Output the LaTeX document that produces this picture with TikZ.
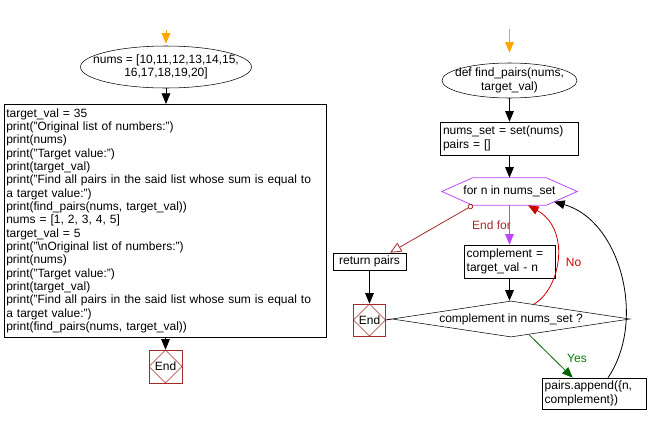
\documentclass[tikz,border=0pt]{standalone}
\usepackage{fontspec}
\setmainfont{Liberation Sans}
\usetikzlibrary{arrows.meta,shapes.geometric,calc}

\definecolor{startorange}{RGB}{255,165,0}
\definecolor{loopviolet}{RGB}{190,70,255}
\definecolor{endbrown}{RGB}{165,42,42}
\definecolor{nored}{RGB}{204,0,0}
\definecolor{yesgreen}{RGB}{0,128,0}
\definecolor{yesarrow}{RGB}{0,100,0}

\tikzset{
  every node/.style={font=\fontsize{9pt}{10pt}\selectfont},
  flowline/.style={line width=0.6pt},
  tip/.style={-{Triangle[width=6.5pt,length=8pt]}},
  startell/.style={ellipse, draw, inner xsep=-11pt, inner ysep=0pt, align=center},
  procbox/.style={rectangle, draw, inner xsep=2pt, inner ysep=1.5pt, align=left},
  endbox/.style={rectangle, draw=endbrown, minimum size=24.75pt, inner sep=0pt,
    path picture={\draw[endbrown] (path picture bounding box.north) -- (path picture bounding box.east)
      -- (path picture bounding box.south) -- (path picture bounding box.west) -- cycle;}},
  decision/.style={diamond, draw, inner sep=0pt, aspect=6.6},
}

\begin{document}
\begin{tikzpicture}[x=0.75pt,y=0.75pt,yscale=-1,xscale=1]
\useasboundingbox (0,0) rectangle (649,425);

%Shape: Ellipse [id:nums]
\node[startell, minimum width=128.25pt, minimum height=31.5pt] (nums) at (166,67) {nums = [10,11,12,13,14,15,\\16,17,18,19,20]};
%Shape: Rectangle [id:code]
\node[procbox, anchor=north west, inner xsep=1.5pt, text width=238.5pt, minimum height=174.75pt] (code) at (4,104) {target\_val = 35\\
print("Original list of numbers:")\\
print(nums)\\
print("Target value:")\\
print(target\_val)\\
print("Find all pairs in the said list whose sum is equal to\\
a target value:")\\
print(find\_pairs(nums, target\_val))\\
nums = [1, 2, 3, 4, 5]\\
target\_val = 5\\
print("\textbackslash nOriginal list of numbers:")\\
print(nums)\\
print("Target value:")\\
print(target\_val)\\
print("Find all pairs in the said list whose sum is equal to\\
a target value:")\\
print(find\_pairs(nums, target\_val))};
%Shape: End [id:endmain]
\node[endbox] (endmain) at (165.5,366.5) {End};

%Shape: Ellipse [id:findp]
\node[startell, minimum width=101.25pt, minimum height=26.25pt] (findp) at (509.5,80.5) {def find\_pairs(nums,\\target\_val)};
%Shape: Rectangle [id:setbox]
\node[procbox, inner xsep=2.25pt, text width=99pt, minimum height=24.75pt] (setbox) at (509,138.5) {nums\_set = set(nums)\\pairs = []};
%Shape: Hexagon [id:forloop]
\node[minimum width=101.25pt, minimum height=20.25pt, inner sep=0pt] (forloop) at (509.5,191.5) {for n in nums\_set};
\coordinate (hexW) at (forloop.west);
\coordinate (hexNW) at ([xshift=23.25pt]forloop.north west);
\coordinate (hexNE) at ([xshift=-23.25pt]forloop.north east);
\coordinate (hexE) at (forloop.east);
\coordinate (hexSE) at ([xshift=-23.25pt]forloop.south east);
\coordinate (hexSW) at ([xshift=23.25pt]forloop.south west);
\draw[loopviolet, flowline] (hexW) -- (hexNW) -- (hexNE) -- (hexE) -- (hexSE) -- (hexSW) -- cycle;
%Shape: Rectangle [id:compbox]
\node[procbox, text width=64.25pt, minimum height=24.75pt] (compbox) at (509.5,261.5) {complement =\\target\_val - n};
%Shape: Diamond [id:dec]
\node[decision, minimum width=178.5pt, minimum height=27pt] (dec) at (511,319) {complement in nums\_set ?};
%Shape: Rectangle [id:retp]
\node[procbox, align=center, minimum width=54.75pt, minimum height=12.75pt] (retp) at (369.5,261.5) {return pairs};
%Shape: End [id:endfn]
\node[endbox, minimum size=24pt] (endfn) at (369.5,320) {End};
%Shape: Rectangle [id:append]
\node[procbox, text width=74pt, minimum height=23.25pt] (append) at (594,393.5) {pairs.append(\{n,\\complement\})};

% Text Node
\node[text=endbrown] (endfor) at (491.5,225) {End for};
% Text Node
\node[text=nored] (nolbl) at (573.5,262) {No};
% Text Node
\node[text=yesgreen] (yeslbl) at (577,358) {Yes};

%Straight Lines [id:start arrows]
\coordinate (startL) at (166,30);
\coordinate (startR) at (509.5,29);
\draw[startorange, flowline, tip, shorten >=1.5pt] (startL) -- (nums.north);
\draw[startorange, flowline, tip, shorten >=7.5pt] (startR) -- (findp.north);

%Straight Lines [id:main flow]
\draw[flowline, tip] (nums.south) -- (nums.south |- code.north);
\draw[flowline, tip] (endmain.north |- code.south) -- (endmain.north);
\draw[flowline, tip] (findp.south) -- (findp.south |- setbox.north);
\draw[flowline, tip] (setbox.south -| forloop.north) -- (forloop.north);
\draw[loopviolet, flowline, tip] (forloop.south) -- (compbox.north);
\draw[flowline, tip] (compbox.south) -- (compbox.south |- dec.north);
\draw[flowline, tip] (retp.south) -- (endfn.north);
\draw[flowline] (endfn.east) -- (dec.west);

%Straight Lines [id:end for]
\draw[endbrown, flowline, {Circle[open,length=4pt]}-{Triangle[open,width=7.5pt,length=8.5pt]}, fill=white] (hexSW) -- ([xshift=15.4pt]retp.north);
%Curve Lines [id:no]
\draw[nored, flowline, tip] ($(dec.north)!0.19!(dec.east)$) .. controls (560,290) and (572,230) .. ([xshift=13.9pt]forloop.south);
%Straight Lines [id:yes]
\draw[yesarrow, flowline, tip] ($(dec.south)!0.15!(dec.east)$) -- ([xshift=23.25pt]append.north west);
%Curve Lines [id:loop back]
\draw[flowline, tip] ([xshift=10.5pt]append.north) .. controls (647,320) and (620,220) .. ($(hexE)!0.75!(hexSE)$);

\end{tikzpicture}
\end{document}
